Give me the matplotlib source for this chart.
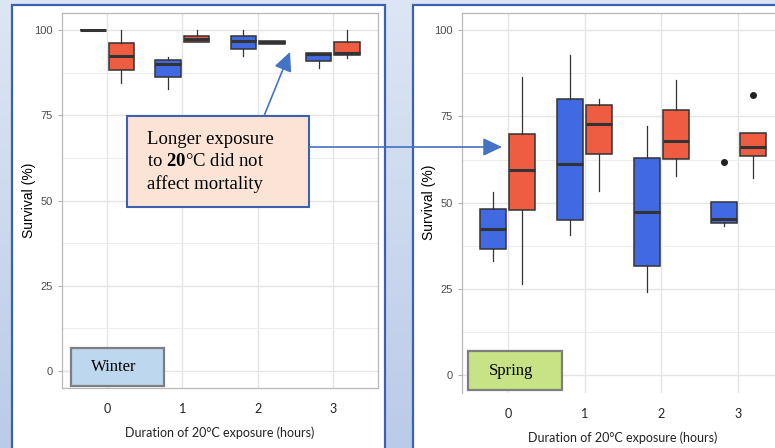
import numpy as np
import matplotlib.pyplot as plt
from matplotlib.patches import Rectangle, FancyArrowPatch
from matplotlib.colors import LinearSegmentedColormap

plt.rcParams['font.family'] = ['Liberation Sans', 'DejaVu Sans']
plt.rcParams['mathtext.fontset'] = 'custom'
plt.rcParams['mathtext.rm'] = 'Liberation Serif'
plt.rcParams['mathtext.bf'] = 'Liberation Serif:bold'

# ---- data ----
hours = [0, 1, 2, 3]

winter_blue_med = [100, 89.9, 96.9, 93.1]
winter_blue_q1 = [100, 86.1, 94.3, 90.8]
winter_blue_q3 = [100, 91.1, 98.4, 93.2]
winter_blue_lo = [100, 82.6, 92.3, 88.9]
winter_blue_hi = [100, 92.1, 100, 93.3]
winter_blue_out = [[], [], [], []]

winter_red_med = [92.3, 97.4, 96.4, 93.4]
winter_red_q1 = [88.4, 96.4, 96.0, 92.6]
winter_red_q3 = [96.1, 98.2, 96.7, 96.6]
winter_red_lo = [84.6, 96.4, 95.9, 91.9]
winter_red_hi = [100, 100, 96.7, 100]
winter_red_out = [[], [], [], []]

spring_blue_med = [42.3, 61.2, 47.3, 45.4]
spring_blue_q1 = [36.6, 45.1, 31.8, 44.1]
spring_blue_q3 = [48.3, 79.9, 63.0, 50.2]
spring_blue_lo = [33.2, 40.6, 24.2, 43.4]
spring_blue_hi = [53.2, 92.8, 72.3, 50.2]
spring_blue_out = [[], [], [], [61.9]]

spring_red_med = [59.6, 72.7, 67.8, 66.1]
spring_red_q1 = [47.9, 64.2, 62.7, 63.4]
spring_red_q3 = [69.8, 78.2, 76.7, 70.2]
spring_red_lo = [26.6, 53.5, 57.7, 57.1]
spring_red_hi = [86.5, 79.9, 85.5, 70.2]
spring_red_out = [[], [], [], [81.2]]

y_ticks = [0, 25, 50, 75, 100]
x_label = 'Duration of 20\u00b0C exposure (hours)'
y_label = 'Survival (%)'

BLUE = '#4169E1'
RED = '#EE5C42'
EDGE = '#333333'
W, H = 775, 448


def fx(x):
    return x / W


def fy(y):
    return 1 - y / H


def make_stats(med, q1, q3, lo, hi, out):
    return [dict(med=m, q1=a, q3=b, whislo=l, whishi=h, fliers=o)
            for m, a, b, l, h, o in zip(med, q1, q3, lo, hi, out)]


def draw_panel(ax, blue, red, hide_bottom=False):
    ax.set_xlim(-0.6, 3.6)
    ax.set_ylim(-5, 105)
    ax.set_yticks(y_ticks)
    ax.set_yticks([12.5, 37.5, 62.5, 87.5], minor=True)
    ax.set_xticks(hours)
    ax.set_xticklabels([str(h) for h in hours], family='Lato', fontsize=9, color='#222222')
    ax.set_axisbelow(True)
    ax.grid(which='major', color='#e4e4e4', lw=1.0)
    ax.grid(which='minor', axis='y', color='#ececec', lw=0.7)
    for s in ax.spines.values():
        s.set_color('#b8b8b8')
        s.set_linewidth(0.9)
    if hide_bottom:
        ax.spines['bottom'].set_visible(False)
    ax.tick_params(axis='y', labelsize=8, labelcolor='#4d4d4d', length=3, color='#b3b3b3', width=0.8)
    ax.tick_params(axis='y', which='minor', length=0)
    ax.tick_params(axis='x', length=0, pad=11)
    ax.set_xlabel(x_label, family='Lato', fontsize=9, color='#222222', labelpad=8)
    ax.set_ylabel(y_label, fontsize=10, labelpad=-1)

    pos = np.array(hours, dtype=float)
    for stats, off, col in [(blue, -0.19, BLUE), (red, 0.19, RED)]:
        ax.bxp(stats, positions=pos + off, widths=0.34, patch_artist=True,
               showcaps=False, manage_ticks=False,
               boxprops=dict(facecolor=col, edgecolor=EDGE, lw=1.1),
               medianprops=dict(color=EDGE, lw=2.2),
               whiskerprops=dict(color=EDGE, lw=0.9),
               flierprops=dict(marker='o', markerfacecolor='#222222',
                               markeredgecolor='#222222', markersize=4))


fig = plt.figure(figsize=(7.75, 4.48), dpi=100)

# slide background
bg = fig.add_axes([0, 0, 1, 1], zorder=-10)
grad = np.linspace(0, 1, 256).reshape(-1, 1)
cmap = LinearSegmentedColormap.from_list('bg', ['#dde6f4', '#bacbe9'])
bg.imshow(grad, aspect='auto', cmap=cmap, extent=[0, 1, 0, 1])
bg.axis('off')

# white panels
for x0, x1 in [(12, 385), (413, 800)]:
    fig.add_artist(Rectangle((fx(x0), fy(470)), fx(x1) - fx(x0), fy(5) - fy(470),
                             transform=fig.transFigure, facecolor='white',
                             edgecolor='#3c62ad', lw=1.6, zorder=-5))

ax1 = fig.add_axes([fx(62), fy(388), (378 - 62) / W, (388 - 13) / H])
ax2 = fig.add_axes([fx(461.7), fy(392.7), (784.3 - 461.7) / W, (392.7 - 12.7) / H])

draw_panel(ax1,
           make_stats(winter_blue_med, winter_blue_q1, winter_blue_q3,
                      winter_blue_lo, winter_blue_hi, winter_blue_out),
           make_stats(winter_red_med, winter_red_q1, winter_red_q3,
                      winter_red_lo, winter_red_hi, winter_red_out))
draw_panel(ax2,
           make_stats(spring_blue_med, spring_blue_q1, spring_blue_q3,
                      spring_blue_lo, spring_blue_hi, spring_blue_out),
           make_stats(spring_red_med, spring_red_q1, spring_red_q3,
                      spring_red_lo, spring_red_hi, spring_red_out),
           hide_bottom=True)

# season labels
for (x0, y0, x1, y1), fc, label in [((71, 348, 164, 386), '#bdd7ee', 'Winter'),
                                    ((468, 351, 562, 390), '#c8e385', 'Spring')]:
    fig.add_artist(Rectangle((fx(x0), fy(y1)), fx(x1) - fx(x0), fy(y0) - fy(y1),
                             transform=fig.transFigure, facecolor=fc,
                             edgecolor='#7f7f7f', lw=1.6, zorder=4))
    fig.text(fx((x0 + x1) / 2 - 4), fy((y0 + y1) / 2), label, family='Liberation Serif',
             fontsize=12, ha='center', va='center', zorder=5)

# callout
fig.add_artist(Rectangle((fx(127), fy(207)), fx(309) - fx(127), fy(116) - fy(207),
                         transform=fig.transFigure, facecolor='#fbe4d6',
                         edgecolor='#3c62ad', lw=1.5, zorder=4))
lines = ['Longer exposure', 'to $\\mathbf{20}$\u00b0C did not', 'affect mortality']
for txt, base in zip(lines, [144, 166, 189]):
    fig.text(fx(147), fy(base), txt, family='Liberation Serif', fontsize=13.5,
             ha='left', va='baseline', zorder=5)

arrow_style = '-|>,head_length=0.8,head_width=0.38'
for a, b in [((264, 116), (290, 52)), ((309, 147), (502, 147))]:
    fig.add_artist(FancyArrowPatch((fx(a[0]), fy(a[1])), (fx(b[0]), fy(b[1])),
                                   transform=fig.transFigure, arrowstyle=arrow_style,
                                   mutation_scale=14.4, color='#4472c4', lw=1.2,
                                   shrinkA=0, shrinkB=0, zorder=6))

fig.savefig('out.png', dpi=100)
